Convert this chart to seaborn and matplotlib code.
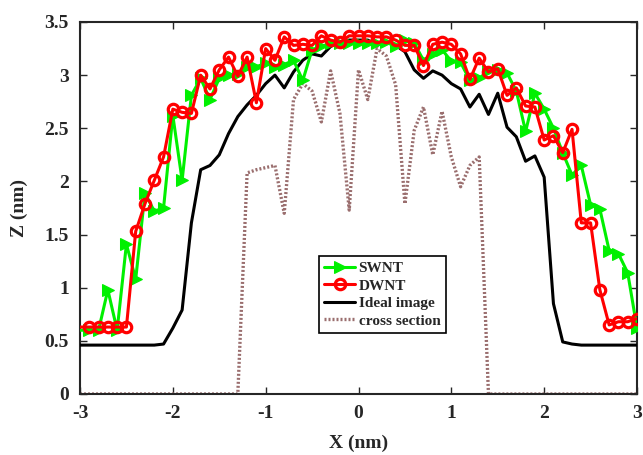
import numpy as np
import pandas as pd
import matplotlib
matplotlib.use("Agg")
import matplotlib.pyplot as plt
import seaborn as sns

# ---- data ----
x_nm = [-3.0, -2.9, -2.8, -2.7, -2.6, -2.5, -2.4, -2.3, -2.2, -2.1,
        -2.0, -1.9, -1.8, -1.7, -1.6, -1.5, -1.4, -1.3, -1.2, -1.1,
        -1.0, -0.9, -0.8, -0.7, -0.6, -0.5, -0.4, -0.3, -0.2, -0.1,
        0.0, 0.1, 0.2, 0.3, 0.4, 0.5, 0.6, 0.7, 0.8, 0.9,
        1.0, 1.1, 1.2, 1.3, 1.4, 1.5, 1.6, 1.7, 1.8, 1.9,
        2.0, 2.1, 2.2, 2.3, 2.4, 2.5, 2.6, 2.7, 2.8, 2.9, 3.0]

swnt = [0.60, 0.60, 0.60, 0.98, 0.60, 1.41, 1.08, 1.89, 1.72, 1.75,
        2.62, 2.01, 2.81, 2.97, 2.77, 2.97, 3.00, 3.01, 3.08, 3.08,
        3.11, 3.08, 3.10, 3.14, 2.95, 3.24, 3.27, 3.30, 3.30, 3.30,
        3.30, 3.30, 3.30, 3.31, 3.27, 3.33, 3.30, 3.14, 3.20, 3.24,
        3.13, 3.12, 2.95, 2.97, 3.04, 3.05, 3.02, 2.85, 2.47, 2.83,
        2.68, 2.50, 2.27, 2.06, 2.15, 1.78, 1.74, 1.35, 1.32, 1.14, 0.62]

dwnt = [0.63, 0.63, 0.63, 0.63, 0.63, 0.63, 1.53, 1.79, 2.01, 2.23,
        2.68, 2.65, 2.64, 3.00, 2.87, 3.05, 3.17, 2.99, 3.17, 2.74,
        3.25, 3.14, 3.36, 3.28, 3.29, 3.28, 3.37, 3.33, 3.31, 3.37,
        3.37, 3.37, 3.36, 3.36, 3.33, 3.28, 3.28, 3.09, 3.29, 3.31,
        3.29, 3.20, 2.96, 3.16, 3.03, 3.06, 2.81, 2.88, 2.71, 2.70,
        2.39, 2.43, 2.27, 2.49, 1.61, 1.61, 0.98, 0.65, 0.68, 0.68, 0.71]

ideal = [0.46, 0.46, 0.46, 0.46, 0.46, 0.46, 0.46, 0.46, 0.46, 0.47,
         0.62, 0.79, 1.61, 2.11, 2.15, 2.25, 2.45, 2.61, 2.72, 2.81,
         2.92, 3.00, 2.88, 3.03, 3.14, 3.20, 3.18, 3.27, 3.31, 3.33,
         3.33, 3.33, 3.28, 3.32, 3.28, 3.22, 3.05, 2.97, 3.04, 3.00,
         2.92, 2.87, 2.70, 2.82, 2.63, 2.83, 2.51, 2.42, 2.19, 2.24,
         2.04, 0.85, 0.49, 0.47, 0.46, 0.46, 0.46, 0.46, 0.46, 0.46, 0.46]

cross = [0, 0, 0, 0, 0, 0, 0, 0, 0, 0,
         0, 0, 0, 0, 0, 0, 0, 0, 2.08, 2.11,
         2.13, 2.15, 1.70, 2.77, 2.92, 2.85, 2.56, 3.04, 2.64, 1.73,
         3.05, 2.77, 3.25, 3.18, 2.91, 1.79, 2.48, 2.70, 2.25, 2.66,
         2.23, 1.95, 2.15, 2.23, 0, 0, 0, 0, 0, 0,
         0, 0, 0, 0, 0, 0, 0, 0, 0, 0, 0]

series_labels = ["SWNT", "DWNT", "Ideal image", "cross section"]
x_ticks = [-3, -2, -1, 0, 1, 2, 3]
x_tick_labels = ["-3", "-2", "-1", "0", "1", "2", "3"]
y_ticks = [0, 0.5, 1, 1.5, 2, 2.5, 3, 3.5]
y_tick_labels = ["0", "0.5", "1", "1.5", "2", "2.5", "3", "3.5"]

# ---- style ----
sns.set_style("ticks")
plt.rcParams["font.family"] = ["Liberation Serif", "DejaVu Serif"]
plt.rcParams["font.weight"] = "bold"

fig = plt.figure(figsize=(6.43, 4.55), dpi=100)
ax = fig.add_axes([80 / 643, 61 / 455, 557 / 643, 372 / 455])

green = "#00f000"
sns.lineplot(x=x_nm, y=cross, ax=ax, color="#9a6e6e", lw=2.4,
             linestyle=(0, (0.6, 0.6)), label=series_labels[3], zorder=2)
sns.lineplot(x=x_nm, y=ideal, ax=ax, color="black", lw=2.2,
             label=series_labels[2], zorder=3)
sns.lineplot(x=x_nm, y=swnt, ax=ax, color=green, lw=2.2, marker=">",
             markersize=9, markeredgecolor=green, markevery=slice(1, None),
             label=series_labels[0], zorder=4)
sns.lineplot(x=x_nm, y=dwnt, ax=ax, color="#ff0000", lw=2.2, marker="o",
             markersize=7.5, markerfacecolor="none", markeredgewidth=2.3,
             markeredgecolor="#ff0000", markevery=slice(1, None),
             label=series_labels[1], zorder=5)

ax.set_xlim(-3, 3)
ax.set_ylim(0, 3.5)
ax.set_xticks(x_ticks)
ax.set_xticklabels(x_tick_labels)
ax.set_yticks(y_ticks)
ax.set_yticklabels(y_tick_labels)
ax.tick_params(direction="in", top=True, right=True, length=5, width=1,
               labelsize=14, pad=8)
for lab in ax.get_xticklabels() + ax.get_yticklabels():
    lab.set_fontweight("bold")
for sp in ax.spines.values():
    sp.set_linewidth(1.5)
    sp.set_visible(True)

ax.set_xlabel("X (nm)", fontsize=14, fontweight="bold", labelpad=9)
ax.set_ylabel("Z (nm)", fontsize=14, fontweight="bold", labelpad=12)

handles, labels = ax.get_legend_handles_labels()
order = [labels.index(s) for s in series_labels]
leg = ax.legend([handles[i] for i in order], [labels[i] for i in order],
                loc="lower left", bbox_to_anchor=(0.429, 0.164),
                fontsize=11, frameon=True, fancybox=False, framealpha=1,
                edgecolor="black", handlelength=2.0, handletextpad=0.25,
                labelspacing=0.25, borderpad=0.35, borderaxespad=0)
leg.get_frame().set_linewidth(1.2)
for t in leg.get_texts():
    t.set_fontweight("bold")
for h in leg.get_lines():
    h.set_markevery([1])

fig.savefig("out.png", dpi=100)
